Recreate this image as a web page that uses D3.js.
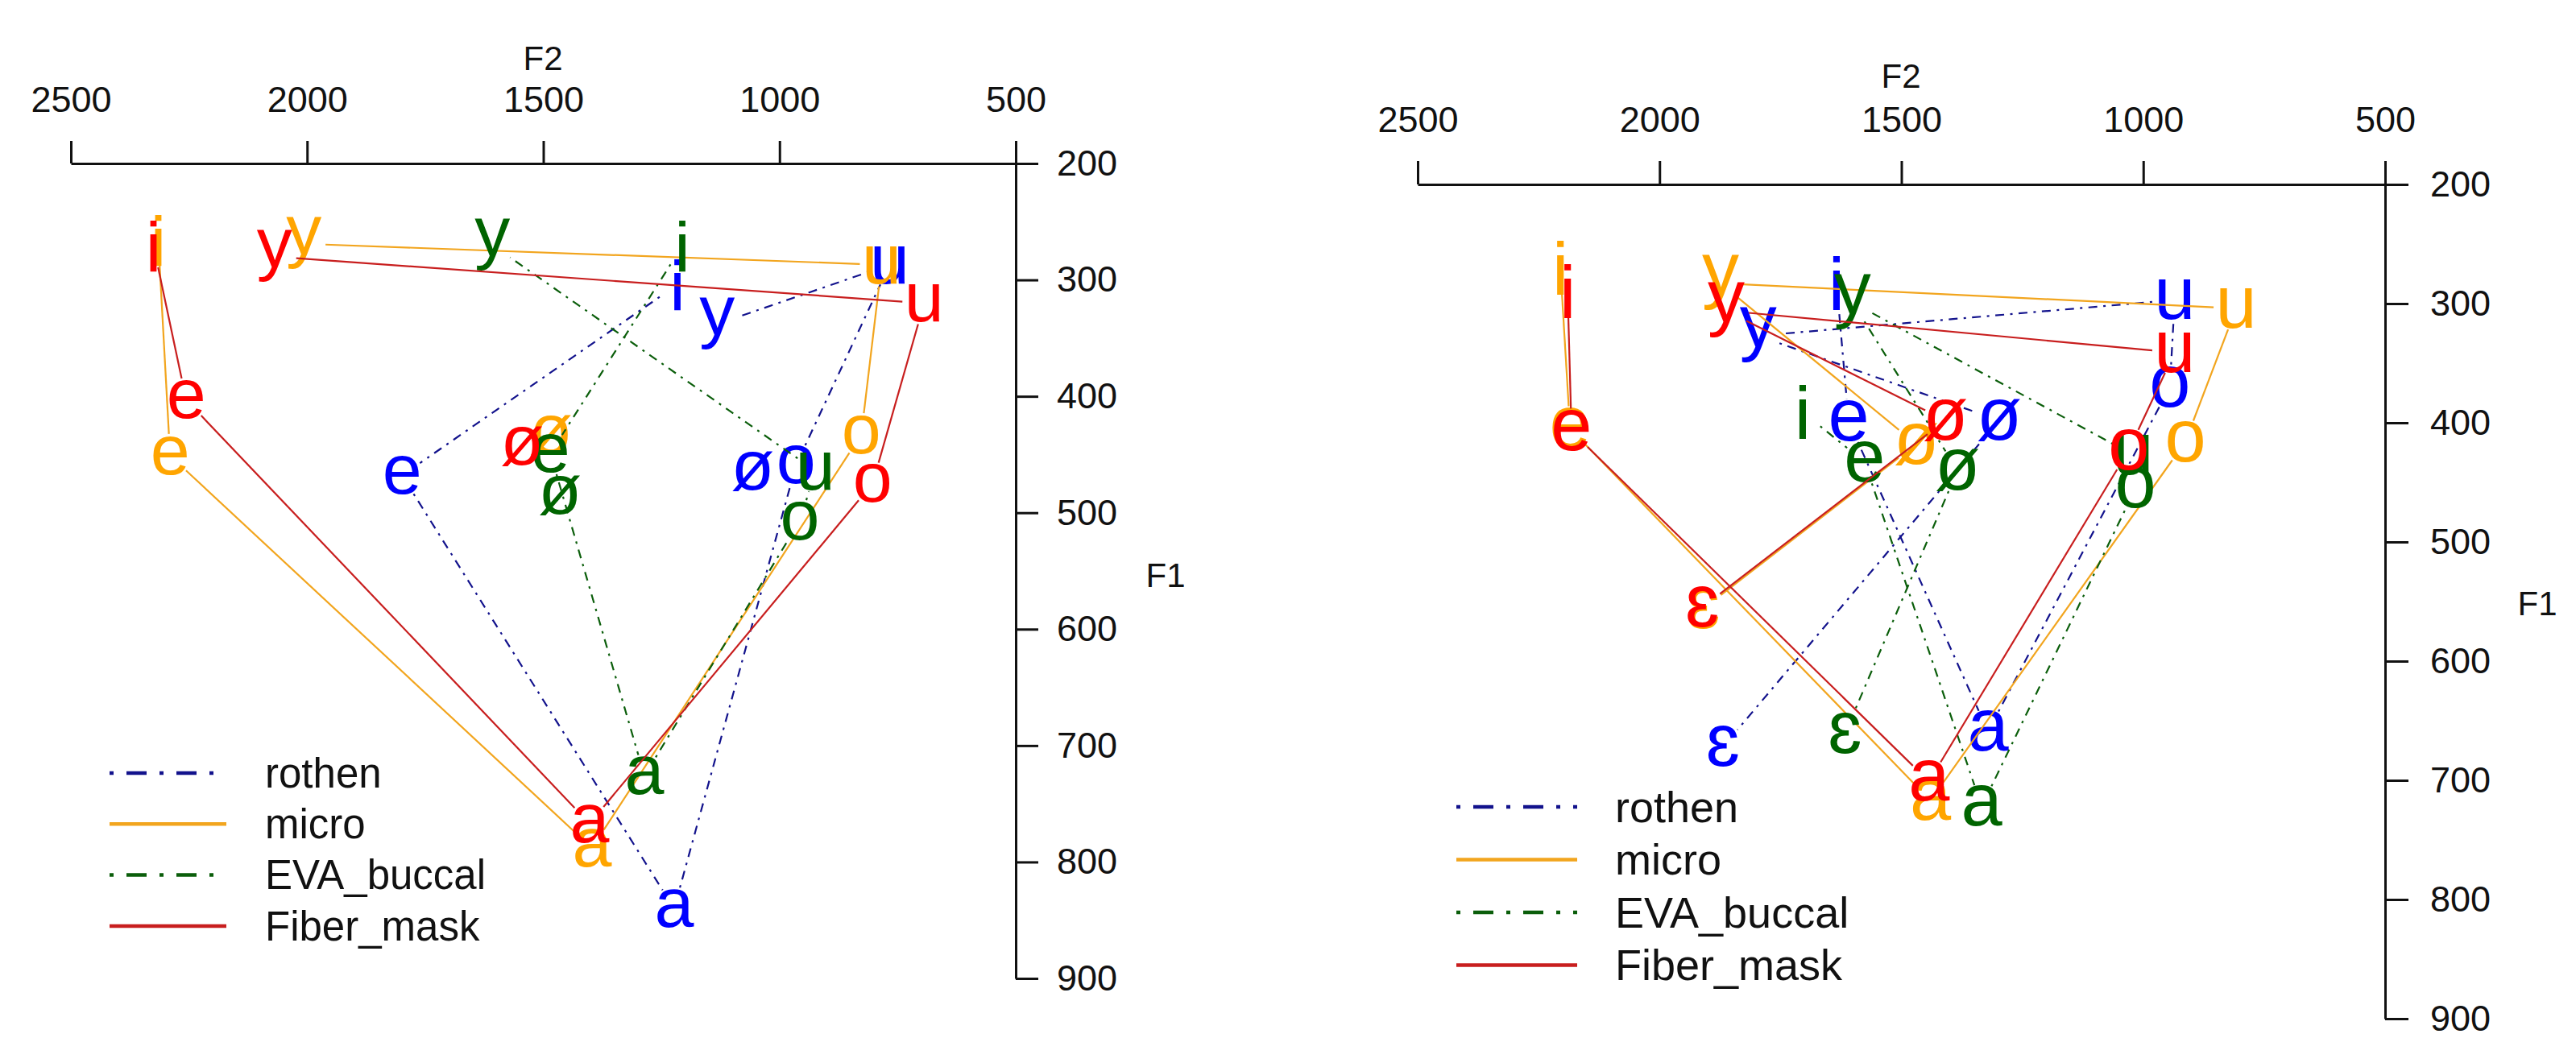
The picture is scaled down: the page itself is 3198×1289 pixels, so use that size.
<!DOCTYPE html>
<html lang="en">
<head>
<meta charset="UTF-8">
<title>Vowel space: F1 / F2</title>
<style>
  body { margin: 0; background: #fff; }
  text { font-family: "Liberation Sans", Arial, sans-serif; }
</style>
</head>
<body>
<svg id="chart" width="3198" height="1289"></svg>
<script src="https://d3js.org/d3.v7.min.js"></script>
<script>

// series, in drawing order (last one ends up on top)
var seriesNames = ["rothen", "micro", "EVA_buccal", "Fiber_mask"];
var labelColors = ["#0000ff", "#ffa500", "#006400", "#ff0000"];
var lineColors = ["#12128c", "#f2a51e", "#0b5e0b", "#c81e1e"];
var dashed = [true, false, true, false];

var f2Ticks = [2500, 2000, 1500, 1000, 500];
var f1Ticks = [200, 300, 400, 500, 600, 700, 800, 900];

// left panel
var leftVowels = ["i", "y", "e", "ø", "a", "o", "u"];
var leftPath = ["i", "e", "a", "o", "u", "y"];
var leftF2 = [
  [1216, 1132, 1799, 1057, 1223, 965, 767],    // rothen
  [2315, 2007, 2290, 1484, 1397, 827, 784],    // micro
  [1206, 1608, 1485, 1465, 1286, 957, 924],    // EVA_buccal
  [2325, 2069, 2256, 1545, 1402, 803, 694]     // Fiber_mask
];
var leftF1 = [
  [304, 338, 468, 464, 840, 459, 287],
  [266, 269, 451, 433, 788, 433, 287],
  [271, 270, 449, 485, 726, 507, 464],
  [271, 280, 403, 443, 767, 475, 320]
];

// right panel
var rightVowels = ["i", "y", "e", "ø", "ɛ", "a", "o", "u"];
var rightPath = ["i", "e", "a", "o", "u", "y", "ø", "ɛ"];
var rightF2 = [
  [1634, 1796, 1609, 1298, 1869, 1321, 945, 935],
  [2205, 1874, 2185, 1469, 1910, 1440, 913, 808],
  [1704, 1601, 1576, 1384, 1617, 1334, 1016, 1021],
  [2190, 1862, 2182, 1409, 1912, 1443, 1030, 935]
];
var rightF1 = [
  [283, 327, 399, 398, 672, 659, 370, 297],
  [270, 283, 405, 418, 556, 717, 416, 304],
  [391, 299, 433, 440, 661, 722, 455, 427],
  [290, 306, 407, 398, 555, 701, 423, 341]
];

var panels = [
  {vowels: leftVowels, path: leftPath, f2: leftF2, f1: leftF1,
   left: 88, right: 1261, top: 203, bottom: 1215, tick: 28,
   f2Title: [674, 72], f1Title: [1447, 714], tickGap: 80, sideGap: 23,
   labelSize: 88, gap: 27,
   legend: {x0: 136, x1: 281, y: 960, dy: 63.3, tx: 329, size: 51}},
  {vowels: rightVowels, path: rightPath, f2: rightF2, f1: rightF1,
   left: 1760, right: 2961, top: 229, bottom: 1265, tick: 29,
   f2Title: [2360, 94], f1Title: [3150, 749], tickGap: 81.5, sideGap: 27,
   labelSize: 92, gap: 28,
   legend: {x0: 1808, x1: 1958, y: 1002, dy: 65.5, tx: 2005, size: 54}}
];

// shift so the ink of each glyph is centred on its point, like R's text()
var glyphShift = {"i": 0.358, "y": 0.155};

var svg = d3.select("#chart");
svg.append("rect").attr("width", 3198).attr("height", 1289).attr("fill", "#fff");

panels.forEach(function(p) {
  var g = svg.append("g");
  var x = d3.scaleLinear().domain([2500, 500]).range([p.left, p.right]);
  var y = d3.scaleLinear().domain([200, 900]).range([p.top, p.bottom]);

  var axTop = g.append("g")
      .attr("transform", "translate(0," + p.top + ")")
      .call(d3.axisTop(x).tickValues(f2Ticks).tickSize(p.tick).tickSizeOuter(0)
            .tickPadding(p.tickGap - p.tick - 16).tickFormat(d3.format("d")));
  var axRight = g.append("g")
      .attr("transform", "translate(" + p.right + ",0)")
      .call(d3.axisRight(y).tickValues(f1Ticks).tickSize(p.tick).tickSizeOuter(0)
            .tickPadding(p.sideGap).tickFormat(d3.format("d")));
  [axTop, axRight].forEach(function(a) {
    a.select(".domain").attr("stroke", "#111").attr("stroke-width", 3);
    a.selectAll(".tick line").attr("stroke", "#111").attr("stroke-width", 3);
    a.selectAll(".tick text").attr("fill", "#111").style("font-size", "45px");
  });

  g.append("text").attr("x", p.f2Title[0]).attr("y", p.f2Title[1]).attr("dy", "0.35em")
      .attr("text-anchor", "middle").attr("fill", "#111").style("font-size", "42px").text("F2");
  g.append("text").attr("x", p.f1Title[0]).attr("y", p.f1Title[1]).attr("dy", "0.35em")
      .attr("text-anchor", "middle").attr("fill", "#111").style("font-size", "42px").text("F1");

  seriesNames.forEach(function(name, s) {
    var pts = p.vowels.map(function(v, k) {
      return {v: v, x: x(p.f2[s][k]), y: y(p.f1[s][k])};
    });
    var byVowel = {};
    pts.forEach(function(d) { byVowel[d.v] = d; });

    // lines with a gap round every point (type = "c")
    var segs = [];
    for (var k = 1; k < p.path.length; k++) {
      var a = byVowel[p.path[k - 1]], b = byVowel[p.path[k]];
      var dx = b.x - a.x, dy = b.y - a.y, len = Math.sqrt(dx * dx + dy * dy);
      if (len <= 2 * p.gap) continue;
      var ux = dx / len, uy = dy / len;
      segs.push([a.x + ux * p.gap, a.y + uy * p.gap, b.x - ux * p.gap, b.y - uy * p.gap]);
    }
    g.append("g").selectAll("line").data(segs).enter().append("line")
        .attr("x1", function(d) { return d[0]; })
        .attr("y1", function(d) { return d[1]; })
        .attr("x2", function(d) { return d[2]; })
        .attr("y2", function(d) { return d[3]; })
        .attr("stroke", lineColors[s])
        .attr("stroke-width", 2.2)
        .attr("stroke-dasharray", dashed[s] ? "3 7.5 11 7.5" : null);

    g.append("g").selectAll("text").data(pts).enter().append("text")
        .attr("x", function(d) { return d.x; })
        .attr("y", function(d) { return d.y; })
        .attr("dy", function(d) { return (glyphShift[d.v] || 0.26) + "em"; })
        .attr("text-anchor", "middle")
        .attr("fill", labelColors[s])
        .style("font-size", p.labelSize + "px")
        .text(function(d) { return d.v; });
  });

  var lg = g.append("g");
  seriesNames.forEach(function(name, s) {
    var ly = p.legend.y + s * p.legend.dy;
    lg.append("line")
        .attr("x1", p.legend.x0).attr("x2", p.legend.x1)
        .attr("y1", ly).attr("y2", ly)
        .attr("stroke", lineColors[s])
        .attr("stroke-width", 4.5)
        .attr("stroke-dasharray", dashed[s] ? "5 16 25 16" : null);
    lg.append("text")
        .attr("x", p.legend.tx).attr("y", ly).attr("dy", "0.35em")
        .attr("fill", "#111")
        .style("font-size", p.legend.size + "px")
        .text(name);
  });
});

</script>
</body>
</html>
